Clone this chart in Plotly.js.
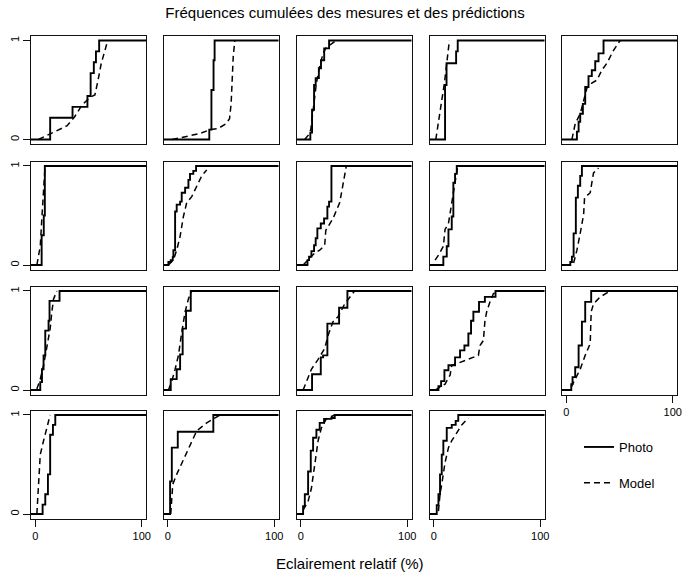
<!DOCTYPE html>
<html>
<head>
<meta charset="utf-8">
<script src="https://cdn.plot.ly/plotly-3.0.1.min.js"></script>
<style>html,body{margin:0;padding:0;background:#fff;}#chart{width:684px;height:572px;}</style>
</head>
<body>
<div id="chart"></div>
<script>
const p1x = [14, 35, 49, 52, 55, 57, 60];
const p1y = [0.22, 0.33, 0.44, 0.67, 0.78, 0.89, 1];
const m1x = [3, 14, 20, 30, 37, 44, 52, 56, 59, 62, 66, 68];
const m1y = [0, 0.06, 0.09, 0.14, 0.23, 0.35, 0.43, 0.45, 0.6, 0.77, 0.92, 1];

const p2x = [39, 41, 43, 44];
const p2y = [0.1, 0.5, 0.8, 1];
const m2x = [4, 18, 30, 40, 47, 55, 58, 59.5, 60.5, 61.5, 63];
const m2y = [0, 0.03, 0.06, 0.1, 0.11, 0.16, 0.21, 0.36, 0.6, 0.84, 1];

const p3x = [9, 10.6, 12.5, 14, 17, 19, 22, 26.6];
const p3y = [0.07, 0.3, 0.55, 0.62, 0.72, 0.8, 0.92, 1];
const m3x = [3.7, 7.5, 9.4, 11.6, 14.7, 17.8, 21, 24, 33.4];
const m3y = [0, 0.05, 0.1, 0.3, 0.57, 0.74, 0.87, 0.93, 1];

const p4x = [10.6, 12, 21, 22.5];
const p4y = [0.55, 0.77, 0.89, 1];
const m4x = [1.9, 5.9, 10, 12.2, 14.7];
const m4y = [0, 0.26, 0.57, 0.77, 1];

const p5x = [10, 11.6, 13.1, 15.6, 17.8, 20.9, 24, 27.2, 30.3, 35];
const p5y = [0.08, 0.18, 0.26, 0.36, 0.53, 0.64, 0.7, 0.79, 0.87, 1];
const m5x = [5.3, 8.4, 13.1, 16.3, 19.4, 24, 28.8, 33.4, 38.1, 44.4, 50.6];
const m5y = [0, 0.16, 0.26, 0.38, 0.52, 0.57, 0.6, 0.7, 0.77, 0.9, 1];

const p6x = [6, 8, 9];
const p6y = [0.3, 0.5, 1];
const m6x = [1.5, 4.7, 6.3, 7.8, 9.2];
const m6y = [0, 0.19, 0.49, 0.8, 1];

const p7x = [0.6, 2.8, 4.7, 5.3, 6.9, 8.4, 11.6, 13.1, 16.3, 19.4, 20.9, 24, 26.6];
const p7y = [0.03, 0.05, 0.08, 0.15, 0.54, 0.61, 0.64, 0.73, 0.78, 0.86, 0.92, 0.95, 1];
const m7x = [0.6, 5.3, 8.4, 11.6, 14.7, 17.8, 22.5, 27.2, 31.9, 36.6];
const m7y = [0, 0.05, 0.15, 0.29, 0.49, 0.63, 0.69, 0.8, 0.9, 0.96];

const p8x = [6.3, 7.8, 10, 12.5, 14, 15.6, 18.8, 21.9, 25, 26.6, 28.8];
const p8y = [0.05, 0.085, 0.14, 0.2, 0.27, 0.37, 0.42, 0.47, 0.59, 0.64, 1];
const m8x = [2.2, 8.4, 13, 17.8, 22.5, 23.5, 27, 30.3, 36.6, 39.7, 42.8];
const m8y = [0, 0.07, 0.12, 0.15, 0.2, 0.35, 0.41, 0.47, 0.63, 0.8, 1];

const p9x = [9, 12.2, 13.8, 16.9, 18.4, 20, 21.6];
const p9y = [0.085, 0.19, 0.36, 0.49, 0.83, 0.92, 1];
const m9x = [1.3, 4.4, 9, 10.6, 13.8, 16.9, 20, 21.6, 22.5];
const m9y = [0.05, 0.1, 0.19, 0.36, 0.42, 0.63, 0.86, 0.97, 1];

const p10x = [3.8, 5.3, 6.9, 9, 10.9, 13.1, 14.7];
const p10y = [0.03, 0.085, 0.32, 0.68, 0.8, 0.9, 1];
const m10x = [6.9, 10, 13.1, 16.3, 17.2, 22.5, 24, 25.6, 30.3];
const m10y = [0.02, 0.15, 0.32, 0.51, 0.68, 0.73, 0.83, 0.93, 0.98];

const p11x = [4.7, 6.3, 7.8, 9.4, 12.5, 13.4, 22.8];
const p11y = [0.08, 0.21, 0.35, 0.6, 0.7, 0.9, 1];
const m11x = [1.5, 4.7, 7.8, 11, 14, 15.6, 17.2, 20.3];
const m11y = [0.01, 0.11, 0.25, 0.45, 0.62, 0.79, 0.92, 1];

const p12x = [2.8, 8.4, 11.6, 14, 17.2, 21.6];
const p12y = [0.11, 0.21, 0.36, 0.62, 0.8, 1];
const m12x = [0.6, 3.8, 6.9, 10, 13.1, 16.3, 19.4, 22.5];
const m12y = [0, 0.09, 0.21, 0.35, 0.58, 0.79, 0.92, 1];

const p13x = [10.6, 18.8, 21, 25, 36, 43.8];
const p13y = [0.16, 0.33, 0.35, 0.67, 0.83, 1];
const m13x = [2.2, 5.3, 10, 16.3, 22.5, 25.6, 30.3, 35, 41.3, 50.6];
const m13y = [0, 0.09, 0.21, 0.31, 0.42, 0.55, 0.69, 0.74, 0.87, 1];

const p14x = [4.4, 6.9, 10, 13.8, 20, 24.7, 28.8, 32.5, 35, 37.2, 42.5, 48, 58];
const p14y = [0.04, 0.09, 0.2, 0.25, 0.33, 0.4, 0.45, 0.57, 0.7, 0.79, 0.89, 0.94, 1];
const m14x = [1.3, 6, 10.6, 15.3, 16.9, 20, 29.4, 41.9, 43.4, 46.6, 48, 49.7, 52.8, 55.9, 59];
const m14y = [0, 0.03, 0.06, 0.15, 0.25, 0.26, 0.3, 0.35, 0.45, 0.5, 0.69, 0.79, 0.89, 0.97, 1];

const p15x = [4.7, 5.9, 8.4, 11.6, 14.7, 17.8, 23.4];
const p15y = [0.06, 0.13, 0.23, 0.45, 0.69, 0.89, 1];
const m15x = [4.7, 8.4, 13.1, 17.8, 22.5, 23.4, 25.6, 31.9, 41.3];
const m15y = [0.03, 0.11, 0.21, 0.35, 0.47, 0.79, 0.87, 0.94, 1];

const p16x = [6.9, 9.4, 11.9, 14, 16.6, 18.8];
const p16y = [0.095, 0.2, 0.4, 0.8, 0.9, 1];
const m16x = [1.5, 3.1, 4.7, 7.8, 11, 14];
const m16y = [0, 0.3, 0.6, 0.74, 0.87, 1];

const p17x = [2.2, 3.8, 9.4, 42.8];
const p17y = [0.33, 0.67, 0.83, 1];
const m17x = [2.8, 4.7, 8.4, 14.7, 21, 27.2, 36.6, 49];
const m17y = [0, 0.3, 0.4, 0.55, 0.7, 0.84, 0.92, 1];

const p18x = [2.2, 3.8, 6.9, 9.4, 11.6, 14.7, 17.8, 21.9, 28.8, 31.9];
const p18y = [0.08, 0.2, 0.43, 0.64, 0.77, 0.85, 0.92, 0.96, 0.97, 1];
const m18x = [2.2, 6.9, 10, 13, 16.3, 19.4, 24, 31.9];
const m18y = [0.04, 0.13, 0.26, 0.5, 0.74, 0.87, 0.96, 1];

const p19x = [2.8, 4.4, 5.9, 7.5, 9, 12.2, 16.9, 20.6, 23];
const p19y = [0.09, 0.2, 0.4, 0.6, 0.74, 0.87, 0.9, 0.94, 1];
const m19x = [4.4, 5.9, 7.5, 10.6, 13.8, 16.9, 21.6, 26.3, 32.5];
const m19y = [0.03, 0.2, 0.3, 0.52, 0.67, 0.74, 0.82, 0.9, 0.97];

const xTickVals = [0, 100];
const xTickText = ['0', '100'];
const yTickVals = [0, 1];
const yTickText = ['0', '1'];
const seriesNames = ['Photo', 'Model'];
const titleText = 'Fréquences cumulées des mesures et des prédictions';
const xTitleText = 'Eclairement relatif (%)';

const panels = [
  [p1x, p1y, m1x, m1y], [p2x, p2y, m2x, m2y], [p3x, p3y, m3x, m3y], [p4x, p4y, m4x, m4y], [p5x, p5y, m5x, m5y],
  [p6x, p6y, m6x, m6y], [p7x, p7y, m7x, m7y], [p8x, p8y, m8x, m8y], [p9x, p9y, m9x, m9y], [p10x, p10y, m10x, m10y],
  [p11x, p11y, m11x, m11y], [p12x, p12y, m12x, m12y], [p13x, p13y, m13x, m13y], [p14x, p14y, m14x, m14y], [p15x, p15y, m15x, m15y],
  [p16x, p16y, m16x, m16y], [p17x, p17y, m17x, m17y], [p18x, p18y, m18x, m18y], [p19x, p19y, m19x, m19y]
];

// layout geometry (pixels)
const W = 684, H = 572;
const colLeft = [31, 163.5, 296.5, 429.5, 562];
const rowTop = [36, 161.5, 286.5, 410.5];
const pw = 115, ph = 108;
const xRange = [-4, 104], yRange = [-0.045, 1.045];
const FONT = 'Liberation Sans, Arial, Helvetica, sans-serif';

const traces = [];
const layout = {
  width: W, height: H, autosize: false,
  margin: {l: 0, r: 0, t: 0, b: 0, pad: 0},
  paper_bgcolor: '#fff', plot_bgcolor: '#fff',
  font: {family: FONT, color: '#000', size: 11},
  title: {text: titleText, x: 345 / W, xanchor: 'center', y: 1 - 13 / H, yanchor: 'middle', font: {family: FONT, size: 15, color: '#000'}},
  showlegend: true,
  legend: {
    x: 579 / W, xanchor: 'left', y: 1 - 432 / H, yanchor: 'top',
    traceorder: 'grouped', tracegroupgap: 16,
    font: {family: FONT, size: 13, color: '#000'},
    bgcolor: 'rgba(0,0,0,0)', borderwidth: 0
  },
  annotations: [{
    text: xTitleText, xref: 'paper', yref: 'paper', x: 350 / W, y: 1 - 563 / H,
    xanchor: 'center', yanchor: 'middle', showarrow: false,
    font: {family: FONT, size: 15, color: '#000'}
  }]
};

panels.forEach((d, i) => {
  const r = Math.floor(i / 5), c = i % 5;
  const n = i + 1;
  const xa = n === 1 ? 'x' : 'x' + n;
  const ya = n === 1 ? 'y' : 'y' + n;
  const [px, py, mx, my] = d;
  const xlo = xRange[0] - 10, xhi = xRange[1] + 10;
  traces.push({
    type: 'scatter', mode: 'lines', xaxis: xa, yaxis: ya,
    x: [xlo].concat(px, [xhi]), y: [0].concat(py, [1]),
    line: {shape: 'hv', color: '#000', width: 1.9},
    name: seriesNames[0], legendgroup: 'photo', showlegend: n === 1, hoverinfo: 'skip'
  });
  traces.push({
    type: 'scatter', mode: 'lines', xaxis: xa, yaxis: ya,
    x: mx, y: my,
    line: {color: '#000', width: 1.5, dash: '6px,4px'},
    name: seriesNames[1], legendgroup: 'model', showlegend: n === 1, hoverinfo: 'skip'
  });
  const showX = (r === 3) || (r === 2 && c === 4);
  const showY = (c === 0);
  const xk = n === 1 ? 'xaxis' : 'xaxis' + n;
  const yk = n === 1 ? 'yaxis' : 'yaxis' + n;
  layout[xk] = {
    domain: [colLeft[c] / W, (colLeft[c] + pw) / W],
    anchor: ya, range: xRange, fixedrange: true,
    showgrid: false, zeroline: false,
    showline: true, mirror: true, linecolor: '#111', linewidth: 1,
    ticks: showX ? 'outside' : '', ticklen: 7, tickwidth: 1, tickcolor: '#111',
    tickmode: 'array', tickvals: xTickVals, ticktext: xTickText,
    showticklabels: showX, tickfont: {family: FONT, size: 11, color: '#000'}
  };
  layout[yk] = {
    domain: [1 - (rowTop[r] + ph) / H, 1 - rowTop[r] / H],
    anchor: xa, range: yRange, fixedrange: true,
    showgrid: false, zeroline: false,
    showline: true, mirror: true, linecolor: '#111', linewidth: 1,
    ticks: showY ? 'outside' : '', ticklen: 7, tickwidth: 1, tickcolor: '#111',
    tickmode: 'array', tickvals: yTickVals, ticktext: yTickText, tickangle: -90,
    showticklabels: showY, tickfont: {family: FONT, size: 11, color: '#000'}
  };
});

Plotly.newPlot('chart', traces, layout, {staticPlot: true, displayModeBar: false});
</script>
</body>
</html>
